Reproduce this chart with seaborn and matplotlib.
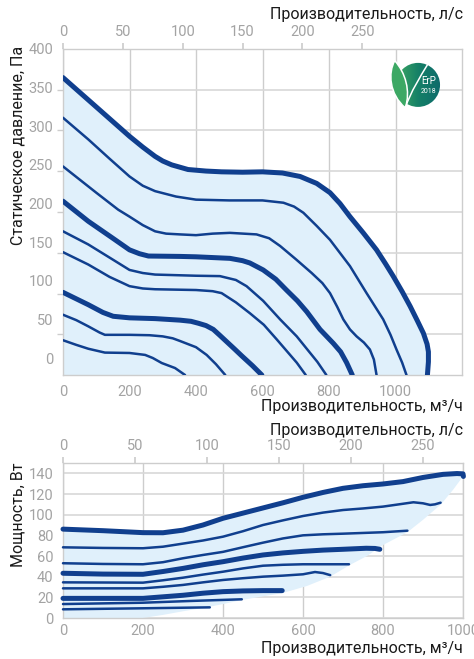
import numpy as np
import pandas as pd
import seaborn as sns
import matplotlib.pyplot as plt
from matplotlib.patches import Circle, PathPatch
from matplotlib.path import Path

# --- pressure curves: flow (m3/h) vs static pressure (Pa) ---
p1_q = [0, 100, 200, 240, 277, 300, 327, 376, 430, 477, 540, 600, 660, 713, 763, 803, 833, 863,
        903, 943, 970, 993, 1020, 1044, 1066, 1084, 1095, 1099, 1099, 1096]
p1_p = [363, 325, 287, 273, 261, 255, 250, 244, 242, 241, 240.5, 241, 239.5, 235, 226, 214, 200, 183,
        162, 140, 122, 106, 86, 67, 48, 32, 18, 8, -5, -22]
p2_q = [0, 76, 140, 200, 240, 277, 340, 400, 500, 600, 663, 695, 723, 763, 803, 833, 863, 913,
        963, 985, 1003, 1020, 1033]
p2_p = [311, 283, 258, 235, 223, 216, 209, 205, 204, 204, 201, 196, 188, 171, 153, 136, 119, 84,
        50, 30, 11, -6, -22]
p3_q = [0, 100, 166, 200, 240, 277, 310, 352, 400, 450, 502, 582, 620, 653, 700, 748, 780, 803,
        825, 843, 863, 883, 905, 923, 935, 943]
p3_p = [248, 214, 192, 183, 172, 164, 161, 160, 159, 161, 162, 160, 155, 145, 128, 110, 97, 84,
        66, 50, 37, 28, 20, 11, -2, -22]
p4_q = [0, 76, 150, 200, 230, 257, 352, 400, 502, 540, 562, 602, 640, 672, 705, 733, 773, 813,
        835, 853, 870]
p4_p = [203, 177, 155, 140, 135, 132, 131.5, 131, 129, 126, 123, 114, 102, 88, 74, 60, 37, 19,
        8, -6, -22]
p5_q = [0, 76, 140, 200, 240, 277, 400, 472, 520, 552, 602, 653, 703, 733, 765, 792]
p5_p = [164, 147, 130, 114, 110, 108, 106.5, 106, 101, 93, 74, 50, 28, 12, -5, -22]
p6_q = [0, 76, 140, 200, 240, 277, 400, 450, 477, 520, 562, 604, 643, 673, 703, 730]
p6_p = [137, 121, 105, 93, 90, 89, 88, 86.5, 84, 72, 58, 43, 24, 9, -6, -22]
p7_q = [0, 76, 120, 151, 200, 277, 352, 385, 407, 430, 452, 470, 490, 515, 537, 570, 598]
p7_p = [85, 69, 59, 54, 52, 51, 49, 47.5, 45, 42, 37, 30, 22, 12, 3, -10, -22]
p8_q = [0, 40, 76, 110, 126, 200, 260, 300, 330, 352, 400, 432, 460, 488]
p8_p = [56, 49, 41, 33, 30, 30, 29.5, 28, 25.5, 22, 14, 4, -8, -22]
p9_q = [0, 40, 76, 126, 200, 247, 270, 297, 337, 367]
p9_p = [23, 17, 12, 7, 6.5, 4, 0, -6.5, -13, -22]
p_thick = [True, False, False, True, False, False, True, False, False]

# --- power curves: flow (m3/h) vs power (W) ---
w1_q = [0, 100, 200, 250, 300, 350, 400, 450, 500, 550, 600, 650, 700, 750, 800, 850, 900, 950,
        985, 1000, 1001]
w1_w = [86, 84.5, 82.6, 82.5, 85, 90, 96.5, 101.5, 106.5, 111.5, 116.8, 121.5, 125.5, 128, 129.7,
        132, 136, 139, 139.8, 139.5, 137]
w2_q = [0, 100, 200, 250, 300, 350, 400, 450, 500, 550, 600, 650, 700, 750, 800, 840, 876, 900,
        918, 930, 944]
w2_w = [68.4, 67.8, 67.5, 69, 72, 75, 78.7, 84, 90, 94.5, 98.7, 102, 104.5, 106, 107.8, 110, 112,
        111, 109.4, 110, 111.6]
w3_q = [0, 100, 200, 250, 300, 350, 400, 450, 500, 550, 600, 650, 700, 800, 861]
w3_w = [53, 52.3, 52, 54, 57.8, 61, 64, 68.5, 72.9, 77, 80, 81, 81.6, 83, 84.5]
w4_q = [0, 100, 200, 250, 300, 350, 400, 450, 500, 550, 600, 650, 700, 758, 780, 792]
w4_w = [43.3, 42.5, 42.3, 45, 48, 51.5, 54.5, 58, 61, 63, 64.5, 65.7, 66.5, 67.5, 67.3, 66.5]
w5_q = [0, 200, 250, 300, 350, 400, 450, 500, 550, 600, 715]
w5_w = [34.5, 34.2, 36.5, 39, 42, 44.8, 48, 50.6, 51.5, 52, 52]
w6_q = [0, 200, 250, 300, 350, 400, 450, 500, 550, 600, 630, 650, 668]
w6_w = [28.7, 28.7, 30.2, 32, 34.5, 36.8, 38.5, 40, 41, 42.3, 44.5, 43.5, 41.5]
w7_q = [0, 200, 250, 300, 350, 400, 450, 500, 548]
w7_w = [19, 19, 20.5, 22, 24, 25.5, 26.2, 26.5, 26.5]
w8_q = [0, 200, 320, 447]
w8_w = [13.5, 14.8, 16.5, 18.1]
w9_q = [0, 200, 367]
w9_w = [8.4, 9.4, 10.3]
w_thick = [True, False, False, True, False, False, True, False, False]

# lower edge of the shaded power area
env_q = [1000, 975, 945, 900, 861, 800, 760, 717, 668, 610, 548, 500, 447, 400, 367, 300, 250, 200, 0]
env_w = [137, 124, 110, 95, 83, 70.6, 60, 51.3, 40, 31, 24, 21, 17.4, 13.5, 10.9, 6.5, 3, 0, 0]

q_ticks = [0, 200, 400, 600, 800, 1000]
ls_ticks = [0, 50, 100, 150, 200, 250]
pa_ticks = [0, 50, 100, 150, 200, 250, 300, 350, 400]
w_ticks = [0, 20, 40, 60, 80, 100, 120, 140]

sns.set_theme(style="white")
plt.rcParams['font.family'] = ['Roboto', 'DejaVu Sans']

LINE = '#103f8e'
FILL = '#e0f0fb'
GRID = '#cdcdcd'
TICK = '#a3a3a3'
TXT = '#1a1a1a'

W, H = 474, 659
fig = plt.figure(figsize=(W / 100, H / 100), dpi=100)


def frame(x0, y0, x1, y1):
    return [x0 / W, 1 - y1 / H, (x1 - x0) / W, (y1 - y0) / H]


def draw_curves(ax, qs, vs, thick):
    rows = []
    for i, (q, v) in enumerate(zip(qs, vs)):
        rows.append(pd.DataFrame({'q': q, 'v': v, 'curve': i}))
    df = pd.concat(rows, ignore_index=True)
    for i, g in df.groupby('curve'):
        sns.lineplot(data=g, x='q', y='v', ax=ax, sort=False, estimator=None,
                     color=LINE, lw=3.6 if thick[i] else 1.8,
                     solid_capstyle='round', solid_joinstyle='round', zorder=3)


def style_axes(ax, xpad):
    for s in ax.spines.values():
        s.set_color(GRID)
        s.set_linewidth(1)
    ax.tick_params(axis='both', which='major', length=0, labelsize=10.5,
                   labelcolor=TICK, pad=7)
    ax.tick_params(axis='x', which='major', pad=xpad)
    ax.grid(True, axis='x', color=GRID, lw=1)
    ax.set_xlabel('')
    ax.set_ylabel('')
    sec = ax.secondary_xaxis('top', functions=(lambda q: q / 3.6, lambda l: l * 3.6))
    sec.set_xticks(ls_ticks)
    sec.tick_params(length=4, color=GRID, labelsize=10.5, labelcolor=TICK, pad=3)
    sec.spines['top'].set_visible(False)
    return sec


# ---------------- pressure chart ----------------
ax1 = fig.add_axes(frame(63, 49, 462, 375))
ax1.fill(p1_q + [0], p1_p + [-22], color=FILL, lw=0, zorder=1)
draw_curves(ax1, [p1_q, p2_q, p3_q, p4_q, p5_q, p6_q, p7_q, p8_q, p9_q],
            [p1_p, p2_p, p3_p, p4_p, p5_p, p6_p, p7_p, p8_p, p9_p], p_thick)
ax1.set_xlim(0, 1200)
ax1.set_ylim(-22, 400)
ax1.set_xticks(q_ticks)
ax1.set_yticks(pa_ticks)
ax1.set_yticks(np.linspace(-22, 400, 9)[1:-1], minor=True)
ax1.grid(True, axis='y', which='minor', color='#d8d8d8', lw=1.2)
ax1.tick_params(axis='y', which='minor', length=4, color=GRID, left=True)
style_axes(ax1, 7)

# ---------------- power chart ----------------
ax2 = fig.add_axes(frame(63, 463, 463, 618))
ax2.fill(w1_q + env_q, w1_w + env_w, color=FILL, lw=0, zorder=1)
draw_curves(ax2, [w1_q, w2_q, w3_q, w4_q, w5_q, w6_q, w7_q, w8_q, w9_q],
            [w1_w, w2_w, w3_w, w4_w, w5_w, w6_w, w7_w, w8_w, w9_w], w_thick)
ax2.set_xlim(0, 1000)
ax2.set_ylim(0, 150)
ax2.set_xticks(q_ticks)
ax2.set_yticks(w_ticks)
ax2.grid(True, axis='y', color='#d8d8d8', lw=1.2)
style_axes(ax2, 4)
for ln in ax2.lines:
    ln.set_clip_on(False)

# ---------------- axis titles ----------------
fs = 11.5
fig.text(463 / W, 1 - 14 / H, 'Производительность, л/с', ha='right', va='center', fontsize=fs, color=TXT)
fig.text(463 / W, 1 - 407 / H, 'Производительность, м³/ч', ha='right', va='center', fontsize=fs, color=TXT)
fig.text(18 / W, 1 - 145 / H, 'Статическое давление, Па', ha='center', va='center', rotation=90, fontsize=fs, color=TXT)
fig.text(463 / W, 1 - 431 / H, 'Производительность, л/с', ha='right', va='center', fontsize=fs, color=TXT)
fig.text(463 / W, 1 - 649 / H, 'Производительность, м³/ч', ha='right', va='center', fontsize=fs, color=TXT)
fig.text(18 / W, 1 - 515 / H, 'Мощность, Вт', ha='center', va='center', rotation=90, fontsize=fs, color=TXT)

# ---------------- ErP badge ----------------
lg = fig.add_axes(frame(383, 57, 445, 119))
lg.set_xlim(0, 1)
lg.set_ylim(0, 1)
lg.set_aspect('equal')
lg.axis('off')
disc = Circle((0.565, 0.55), 0.355, fc='none', lw=0)
lg.add_patch(disc)
grad = np.linspace(0, 1, 64)[None, :]
img = lg.imshow(grad, extent=(0.21, 0.92, 0.19, 0.91), cmap=plt.matplotlib.colors.LinearSegmentedColormap.from_list(
    'erp', ['#3fa862', '#158067', '#0d6a6b']), origin='lower', aspect='auto', zorder=1)
img.set_clip_path(disc)
leaf = Path([(0.36, 0.18), (0.10, 0.40), (0.08, 0.75), (0.19, 0.94),
             (0.36, 0.75), (0.45, 0.45), (0.36, 0.18)],
            [Path.MOVETO, Path.CURVE4, Path.CURVE4, Path.CURVE4,
             Path.CURVE4, Path.CURVE4, Path.CURVE4])
lg.add_patch(PathPatch(leaf, fc='#3ca864', ec='white', lw=1.1, zorder=2))
stem = Path([(0.36, 0.18), (0.45, 0.45), (0.60, 0.68), (0.72, 0.88)],
            [Path.MOVETO, Path.CURVE4, Path.CURVE4, Path.CURVE4])
lg.add_patch(PathPatch(stem, fc='none', ec='white', lw=1.1, zorder=3))
lg.set_xlim(0, 1)
lg.set_ylim(0, 1)
lg.text(0.74, 0.62, 'ErP', color='white', fontsize=7, ha='center', va='center', zorder=4)
lg.text(0.73, 0.45, '2018', color='white', fontsize=5, ha='center', va='center', zorder=4)

fig.savefig('out.png', dpi=100)
